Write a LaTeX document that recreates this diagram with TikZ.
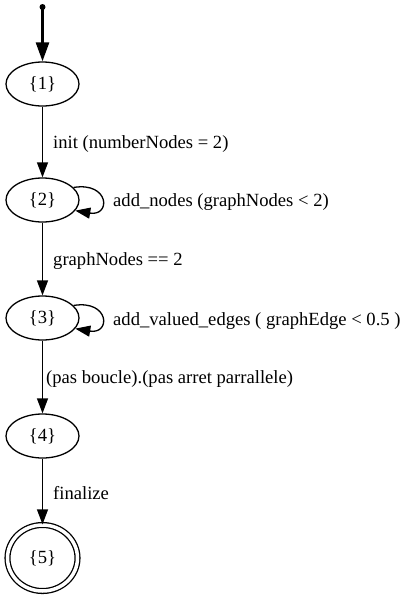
\documentclass[tikz,border=0pt]{standalone}
\usepackage{fontspec}
\setmainfont{Liberation Serif}
\usetikzlibrary{shapes.geometric,arrows.meta}
\begin{document}
\begin{tikzpicture}[x=1pt,y=-1pt,
  every node/.style={font=\fontsize{18.6}{20}\selectfont},
  state/.style={draw,ellipse,line width=1.3pt,minimum width=73pt,minimum height=44pt,inner sep=0pt},
  final/.style={draw,ellipse,line width=1.3pt,double distance=3.5pt,minimum width=70pt,minimum height=66pt,inner sep=0pt},
  edge/.style={line width=1.3pt,-{Triangle[length=15pt,width=11pt]}},
  startedge/.style={line width=2.6pt,-{Triangle[length=19pt,width=13pt]}},
  lbl/.style={anchor=base west,inner sep=0pt}]
\useasboundingbox (0,0) rectangle (408,606);
\fill[white] (0,0) rectangle (408,606);
\node[state] (n1) at (42.5,84) {\{1\}};
\node[state] (n2) at (42.5,200) {\{2\}};
\node[state] (n3) at (42.5,318) {\{3\}};
\node[state] (n4) at (42.5,436) {\{4\}};
\node[final] (n5) at (42.5,558) {\{5\}};
\coordinate (s) at (42.5,7);
\fill (s) circle (3pt);
\draw[startedge] (s) -- (n1);
\draw[edge] (n1) -- (n2);
\draw[edge] (n2) -- (n3);
\draw[edge] (n3) -- (n4);
\draw[edge] (n4) -- (n5);
\draw[edge] (n2.22) .. controls +(36,-6) and +(36,6) .. (n2.-18);
\draw[edge] (n3.22) .. controls +(36,-6) and +(36,6) .. (n3.-18);
\node[lbl] (l1) at (53,148) {init (numberNodes = 2)};
\node[lbl] (l2) at (113,206) {add\_nodes (graphNodes < 2)};
\node[lbl] (l3) at (53,265) {graphNodes == 2};
\node[lbl] (l4) at (113,325) {add\_valued\_edges ( graphEdge < 0.5 )};
\node[lbl] (l5) at (46,383) {(pas boucle).(pas arret parrallele)};
\node[lbl] (l6) at (53,499) {finalize};
\end{tikzpicture}
\end{document}
